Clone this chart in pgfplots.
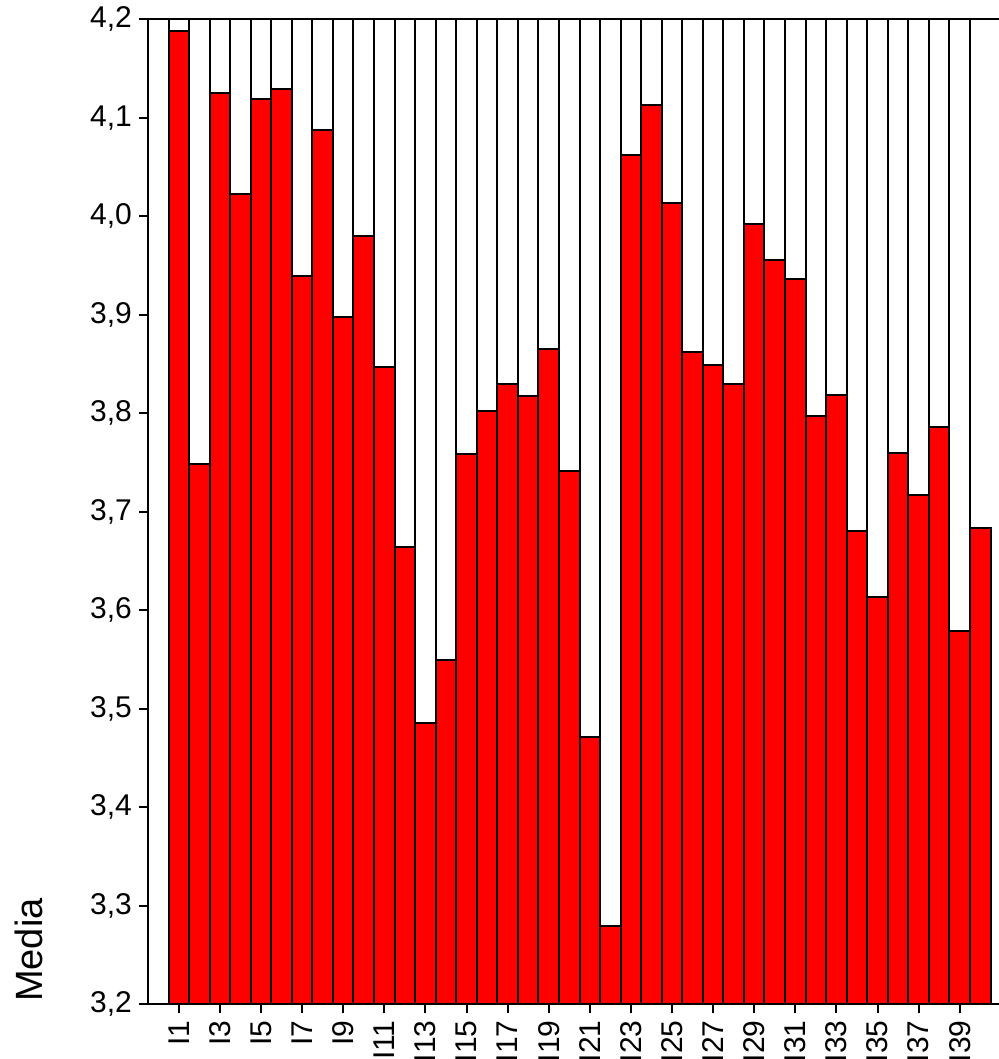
\documentclass[border=0pt]{standalone}
\usepackage{fontspec}
\setmainfont{Liberation Sans}
\usepackage{pgfplots}
\pgfplotsset{compat=1.18}
\usepackage{pgfplotstable}

\pgfplotstableread{
x y
1 4.188
2 3.749
3 4.125
4 4.023
5 4.119
6 4.129
7 3.939
8 4.088
9 3.898
10 3.980
11 3.847
12 3.664
13 3.486
14 3.550
15 3.759
16 3.802
17 3.830
18 3.818
19 3.865
20 3.741
21 3.471
22 3.279
23 4.062
24 4.113
25 4.013
26 3.862
27 3.849
28 3.830
29 3.992
30 3.956
31 3.936
32 3.797
33 3.819
34 3.680
35 3.614
36 3.760
37 3.717
38 3.786
39 3.579
40 3.684
}\means

\pgfplotstableread{
x y
1 4.2
2 4.2
3 4.2
4 4.2
5 4.2
6 4.2
7 4.2
8 4.2
9 4.2
10 4.2
11 4.2
12 4.2
13 4.2
14 4.2
15 4.2
16 4.2
17 4.2
18 4.2
19 4.2
20 4.2
21 4.2
22 4.2
23 4.2
24 4.2
25 4.2
26 4.2
27 4.2
28 4.2
29 4.2
30 4.2
31 4.2
32 4.2
33 4.2
34 4.2
35 4.2
36 4.2
37 4.2
38 4.2
39 4.2
}\cols

\begin{document}
\begin{tikzpicture}
\begin{axis}[
  scale only axis, width=426.4pt, height=492.5pt,
  xmin=-0.5, xmax=41, ymin=3.2, ymax=4.2,
  axis line style={line width=1pt, black},
  every tick/.style={black, line width=1pt},
  tick align=outside, major tick length=4.5pt,
  xtick pos=bottom, ytick pos=left,
  ytick={3.2,3.3,3.4,3.5,3.6,3.7,3.8,3.9,4.0,4.1,4.2},
  yticklabel style={/pgf/number format/.cd, use comma, fixed, fixed zerofill, precision=1, assume math mode=true},
  xtick={1,3,5,7,9,11,13,15,17,19,21,23,25,27,29,31,33,35,37,39},
  xticklabels={I1,I3,I5,I7,I9,I11,I13,I15,I17,I19,I21,I23,I25,I27,I29,I31,I33,I35,I37,I39},
  xticklabel style={rotate=90, anchor=east},
  tick label style={font=\fontsize{15}{18}\selectfont, black},
  axis on top,
  clip=true,
]
\addplot[ybar, bar width=1, bar shift=0pt, fill=white, draw=black, line width=1pt] table[x=x, y=y] {\cols};
\addplot[ybar, bar width=1, bar shift=0pt, fill=red, draw=black, line width=1pt] table[x=x, y=y] {\means};
\end{axis}
\node[rotate=90, anchor=base west, inner sep=0pt, font=\fontsize{19}{22}\selectfont] at (-52.5pt,1pt) {Media};
\pgfresetboundingbox
\path[use as bounding box] (-74pt,-27.35pt) rectangle (425.5pt,502.15pt);
\end{tikzpicture}
\end{document}
